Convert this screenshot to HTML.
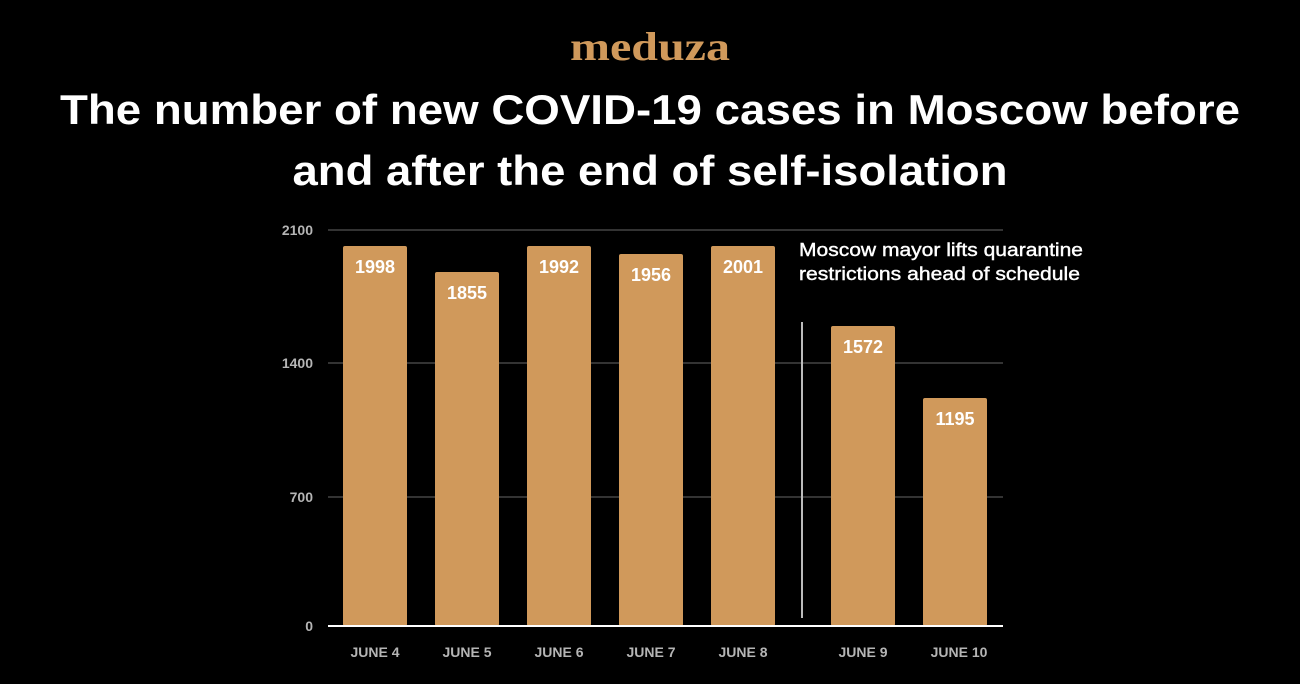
<!DOCTYPE html>
<html><head><meta charset="utf-8"><style>
html,body{margin:0;padding:0;background:#000;}
svg{display:block;}
</style></head><body>
<svg width="1300" height="684" viewBox="0 0 1300 684" xmlns="http://www.w3.org/2000/svg" font-family="Liberation Sans, sans-serif">
<rect width="1300" height="684" fill="#000"/>
<text x="650" y="60" text-anchor="middle" font-family="Liberation Serif, serif" font-weight="bold" font-size="40" fill="#d0995b" textLength="160" lengthAdjust="spacingAndGlyphs">meduza</text>
<text x="650" y="124" text-anchor="middle" font-weight="bold" font-size="42" fill="#fff" textLength="1180" lengthAdjust="spacingAndGlyphs">The number of new COVID-19 cases in Moscow before</text>
<text x="650" y="185" text-anchor="middle" font-weight="bold" font-size="42" fill="#fff" textLength="715" lengthAdjust="spacingAndGlyphs">and after the end of self-isolation</text>
<g stroke="#333" stroke-width="2">
<line x1="328" y1="230" x2="1003" y2="230"/>
<line x1="328" y1="363" x2="1003" y2="363"/>
<line x1="328" y1="497" x2="1003" y2="497"/>
</g>
<g font-weight="bold" font-size="14" fill="#b5b5b5" text-anchor="end">
<text x="313" y="235">2100</text>
<text x="313" y="368">1400</text>
<text x="313" y="502">700</text>
<text x="313" y="631">0</text>
</g>
<line x1="802" y1="322" x2="802" y2="618" stroke="#bbb" stroke-width="2"/>
<g fill="#d0995b">
<rect x="343" y="246" width="64" height="380" rx="2"/>
<rect x="435" y="272" width="64" height="354" rx="2"/>
<rect x="527" y="246" width="64" height="380" rx="2"/>
<rect x="619" y="254" width="64" height="372" rx="2"/>
<rect x="711" y="246" width="64" height="380" rx="2"/>
<rect x="831" y="326" width="64" height="300" rx="2"/>
<rect x="923" y="398" width="64" height="228" rx="2"/>
</g>
<line x1="328" y1="626" x2="1003" y2="626" stroke="#fff" stroke-width="2"/>
<g font-weight="bold" font-size="18" fill="#fff" text-anchor="middle">
<text x="375" y="273">1998</text>
<text x="467" y="299">1855</text>
<text x="559" y="273">1992</text>
<text x="651" y="281">1956</text>
<text x="743" y="273">2001</text>
<text x="863" y="353">1572</text>
<text x="955" y="425">1195</text>
</g>
<g font-weight="bold" font-size="14" fill="#b5b5b5" text-anchor="middle">
<text x="375" y="657">JUNE 4</text>
<text x="467" y="657">JUNE 5</text>
<text x="559" y="657">JUNE 6</text>
<text x="651" y="657">JUNE 7</text>
<text x="743" y="657">JUNE 8</text>
<text x="863" y="657">JUNE 9</text>
<text x="959" y="657">JUNE 10</text>
</g>
<g font-size="18" fill="#fff" stroke="#fff" stroke-width="0.4">
<text x="799" y="256" textLength="284" lengthAdjust="spacingAndGlyphs">Moscow mayor lifts quarantine</text>
<text x="799" y="280" textLength="281" lengthAdjust="spacingAndGlyphs">restrictions ahead of schedule</text>
</g>
</svg>
</body></html>
